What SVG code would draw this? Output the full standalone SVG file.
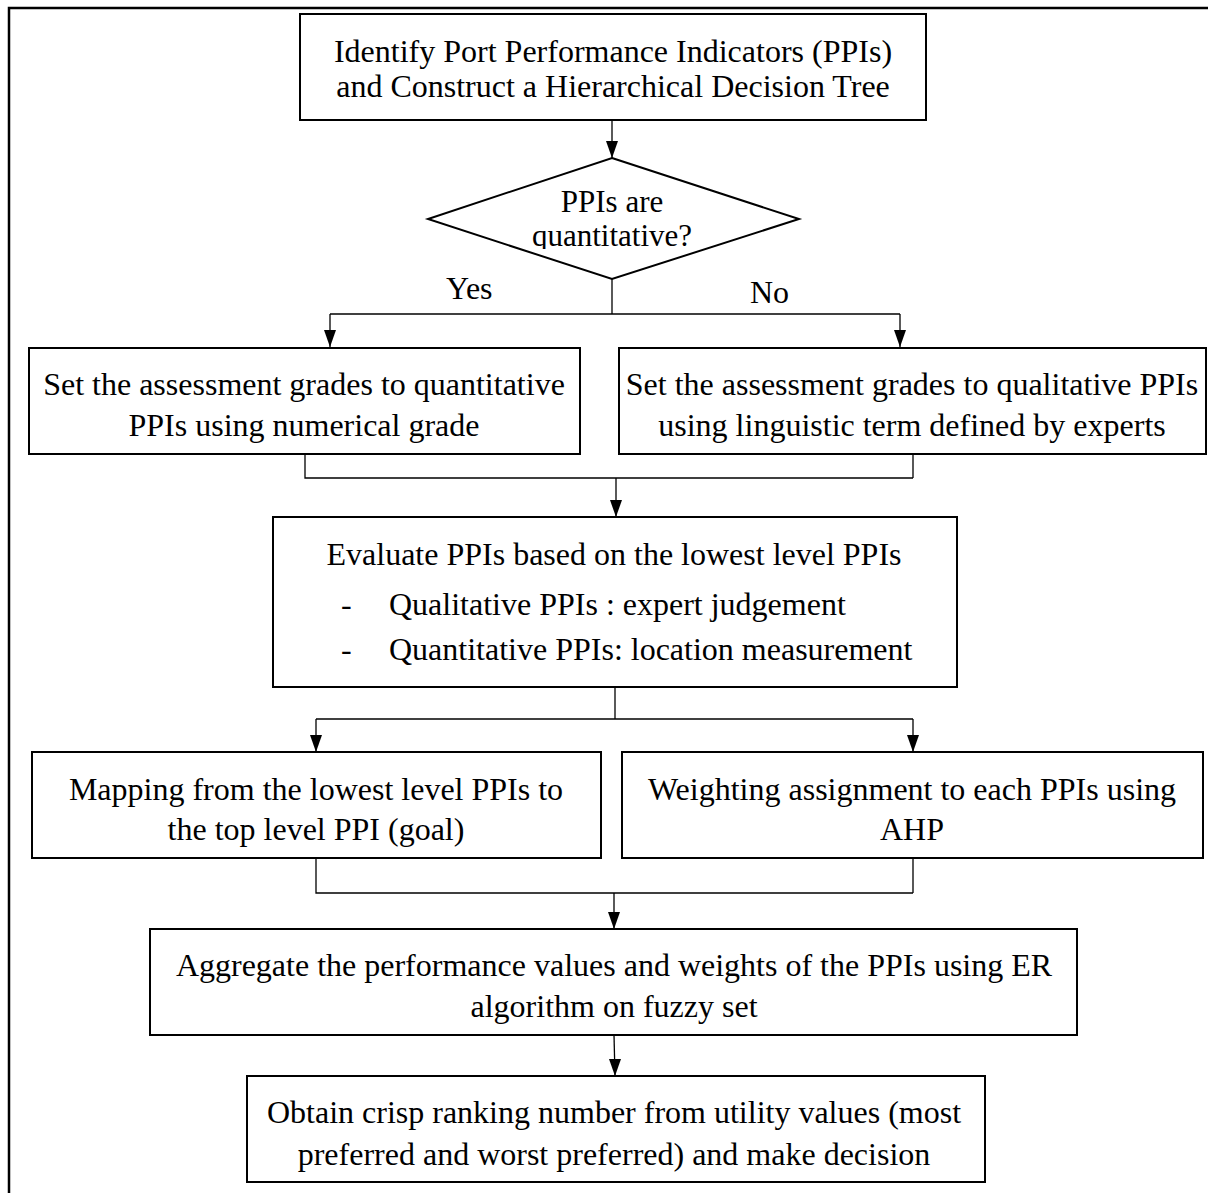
<svg xmlns="http://www.w3.org/2000/svg" width="1208" height="1193" viewBox="0 0 1208 1193">
  <style>
    .box { fill: #ffffff; stroke: #000000; stroke-width: 2; }
    .wire { fill: none; stroke: #000000; stroke-width: 1.3; }
    .frame { fill: none; stroke: #000000; stroke-width: 2.5; }
    text { font-family: "Liberation Serif", "Times New Roman", serif; font-size: 32px; fill: #000000; }
    .c { text-anchor: middle; }
    .q { font-size: 31px; }
  </style>
  <defs>
    <marker id="down" markerUnits="userSpaceOnUse" markerWidth="12" markerHeight="18" refX="6" refY="17" orient="0" viewBox="0 0 12 18">
      <path d="M0,0 L12,0 L6,17 Z" fill="#000000"/>
    </marker>
    <clipPath id="diamond-clip">
      <rect x="420" y="150" width="390" height="99"/>
    </clipPath>
  </defs>

  <!-- page frame -->
  <path class="frame" d="M9,1193 L9,8 L1208,8"/>

  <!-- connectors -->
  <g id="connectors">
    <path class="wire" d="M612,120 L612,158" marker-end="url(#down)"/>
    <path class="wire" d="M612,279 L612,314"/>
    <path class="wire" d="M330,314 L900,314"/>
    <path class="wire" d="M330,314 L330,347" marker-end="url(#down)"/>
    <path class="wire" d="M900,314 L900,347" marker-end="url(#down)"/>
    <path class="wire" d="M305,454 L305,478 L913,478 M913,454 L913,478"/>
    <path class="wire" d="M616,478 L616,517" marker-end="url(#down)"/>
    <path class="wire" d="M615,687 L615,719"/>
    <path class="wire" d="M316,719 L913,719"/>
    <path class="wire" d="M316,719 L316,752" marker-end="url(#down)"/>
    <path class="wire" d="M913,719 L913,752" marker-end="url(#down)"/>
    <path class="wire" d="M316,858 L316,893 L913,893 M913,858 L913,893"/>
    <path class="wire" d="M614,893 L614,929" marker-end="url(#down)"/>
    <path class="wire" d="M614,1035 L615,1076" marker-end="url(#down)"/>
    <text x="446" y="299">Yes</text>
    <text x="750" y="303">No</text>
  </g>

  <g id="identify">
    <rect class="box" x="300" y="14" width="626" height="106"/>
    <text class="c" x="613" y="62">Identify Port Performance Indicators (PPIs)</text>
    <text class="c" x="613" y="97">and Construct a Hierarchical Decision Tree</text>
  </g>

  <g id="decision">
    <polygon class="box" points="612,158 799,219 612,279 428,219"/>
    <g clip-path="url(#diamond-clip)">
      <text class="c q" x="612" y="212">PPIs are</text>
      <text class="c q" x="612" y="246">quantitative?</text>
    </g>
  </g>

  <g id="quantitative-grades">
    <rect class="box" x="29" y="348" width="551" height="106"/>
    <text class="c" x="304" y="395">Set the assessment grades to quantitative</text>
    <text class="c" x="304" y="436">PPIs using numerical grade</text>
  </g>

  <g id="qualitative-grades">
    <rect class="box" x="619" y="348" width="587" height="106"/>
    <text class="c" x="912" y="395">Set the assessment grades to qualitative PPIs</text>
    <text class="c" x="912" y="436">using linguistic term defined by experts</text>
  </g>

  <g id="evaluate">
    <rect class="box" x="273" y="517" width="684" height="170"/>
    <text class="c" x="614" y="565">Evaluate PPIs based on the lowest level PPIs</text>
    <text x="341" y="615">-</text>
    <text x="389" y="615">Qualitative PPIs : expert judgement</text>
    <text x="341" y="660">-</text>
    <text x="389" y="660">Quantitative PPIs: location measurement</text>
  </g>

  <g id="mapping">
    <rect class="box" x="32" y="752" width="569" height="106"/>
    <text class="c" x="316" y="800">Mapping from the lowest level PPIs to</text>
    <text class="c" x="316" y="840">the top level PPI (goal)</text>
  </g>

  <g id="weighting">
    <rect class="box" x="622" y="752" width="581" height="106"/>
    <text class="c" x="912" y="800">Weighting assignment to each PPIs using</text>
    <text class="c" x="912" y="840">AHP</text>
  </g>

  <g id="aggregate">
    <rect class="box" x="150" y="929" width="927" height="106"/>
    <text class="c" x="614" y="976">Aggregate the performance values and weights of the PPIs using ER</text>
    <text class="c" x="614" y="1017">algorithm on fuzzy set</text>
  </g>

  <g id="ranking">
    <rect class="box" x="247" y="1076" width="738" height="106"/>
    <text class="c" x="614" y="1123">Obtain crisp ranking number from utility values (most</text>
    <text class="c" x="614" y="1165">preferred and worst preferred) and make decision</text>
  </g>
</svg>
